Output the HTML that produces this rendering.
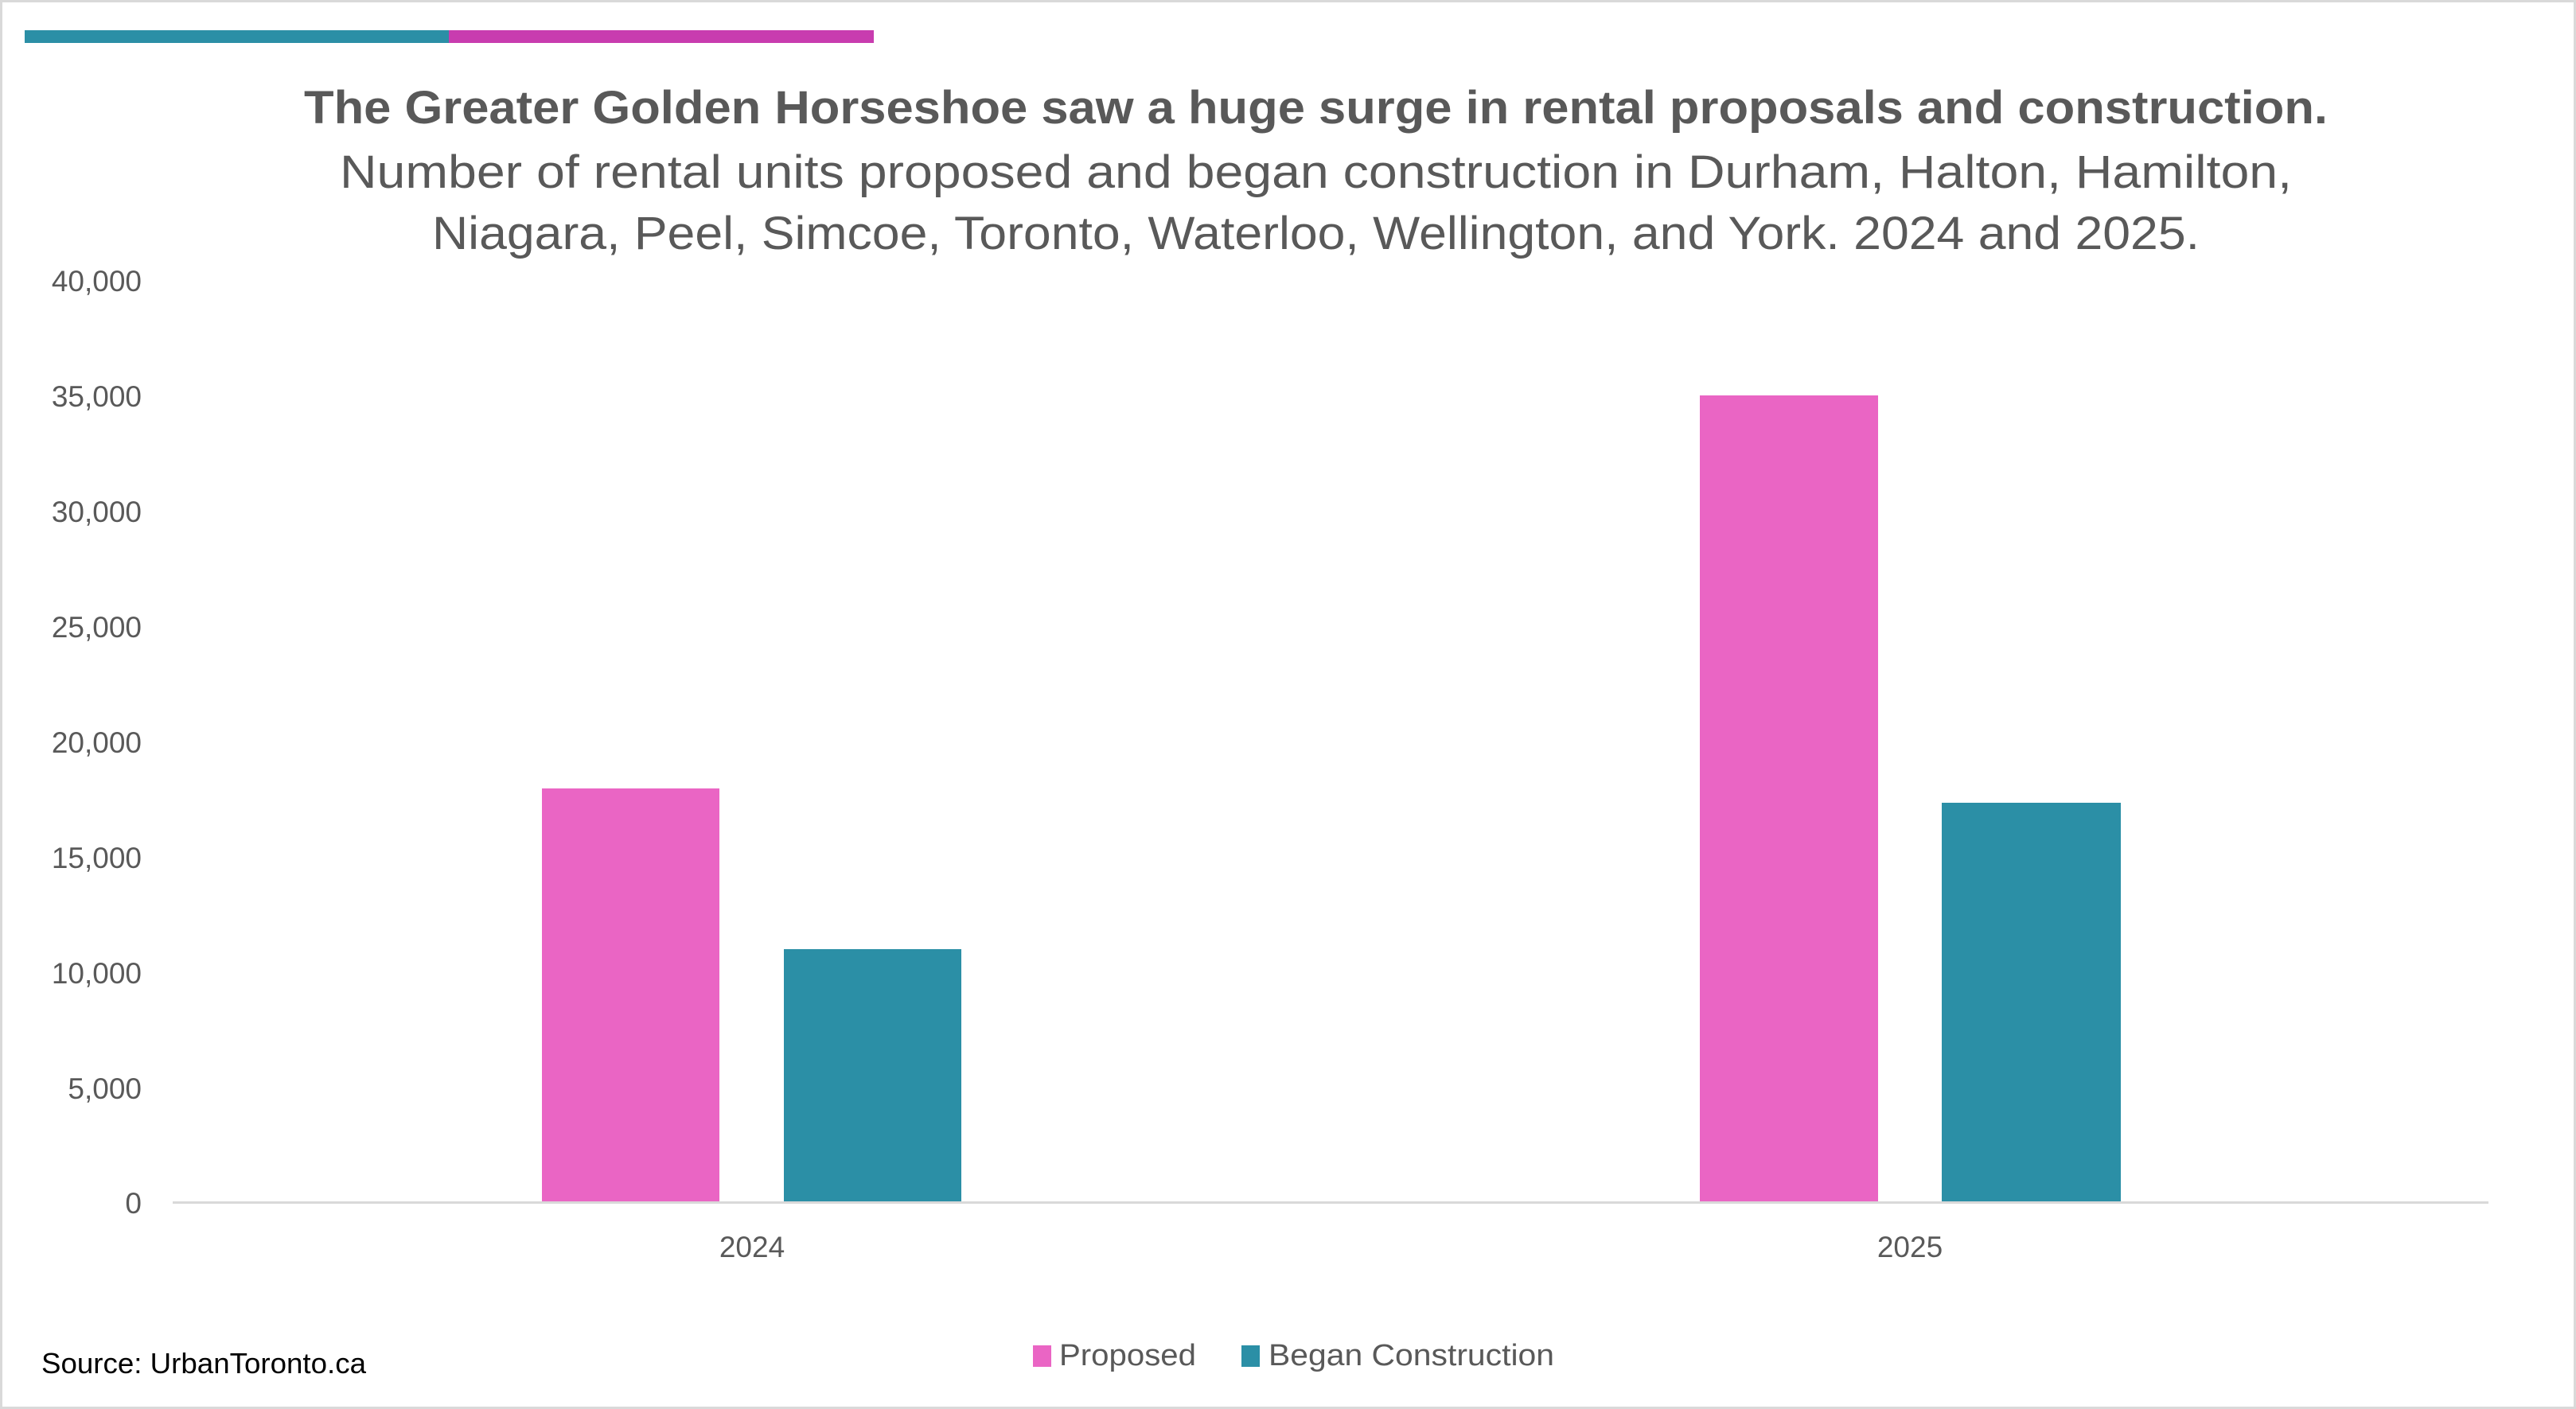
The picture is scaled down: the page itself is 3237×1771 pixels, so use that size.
<!DOCTYPE html>
<html><head><meta charset="utf-8"><style>
html,body{margin:0;padding:0;background:#fff;}
svg{display:block;}
text{font-family:"Liberation Sans",sans-serif;}
</style></head><body>
<svg width="3237" height="1771" viewBox="0 0 3237 1771" xmlns="http://www.w3.org/2000/svg">
<rect x="1.5" y="1.5" width="3234" height="1768" fill="#fff" stroke="#d9d9d9" stroke-width="3"/>
<rect x="31" y="38" width="533" height="16" fill="#2b8fa6"/>
<rect x="564" y="38" width="534" height="16" fill="#c83caf"/>
<text x="382" y="155" font-size="58" font-weight="bold" fill="#595959" textLength="2543" lengthAdjust="spacingAndGlyphs">The Greater Golden Horseshoe saw a huge surge in rental proposals and construction.</text>
<text x="427" y="236" font-size="58" fill="#595959" textLength="2453" lengthAdjust="spacingAndGlyphs">Number of rental units proposed and began construction in Durham, Halton, Hamilton,</text>
<text x="543" y="313" font-size="58" fill="#595959" textLength="2221" lengthAdjust="spacingAndGlyphs">Niagara, Peel, Simcoe, Toronto, Waterloo, Wellington, and York. 2024 and 2025.</text>
<g font-size="37" fill="#595959" text-anchor="end">
<text x="178" y="366">40,000</text>
<text x="178" y="511">35,000</text>
<text x="178" y="656">30,000</text>
<text x="178" y="801">25,000</text>
<text x="178" y="946">20,000</text>
<text x="178" y="1091">15,000</text>
<text x="178" y="1236">10,000</text>
<text x="178" y="1381">5,000</text>
<text x="178" y="1525">0</text>
</g>
<rect x="681" y="991" width="223" height="521" fill="#ea65c4"/>
<rect x="985" y="1193" width="223" height="319" fill="#2b8fa6"/>
<rect x="2136" y="497" width="224" height="1015" fill="#ea65c4"/>
<rect x="2440" y="1009" width="225" height="503" fill="#2b8fa6"/>
<rect x="217" y="1510" width="2910" height="3" fill="#d9d9d9"/>
<g font-size="37" fill="#595959" text-anchor="middle">
<text x="945" y="1580">2024</text>
<text x="2400" y="1580">2025</text>
</g>
<rect x="1298" y="1691" width="23" height="27" fill="#ea65c4"/>
<text x="1331" y="1716" font-size="38" fill="#595959" textLength="172" lengthAdjust="spacingAndGlyphs">Proposed</text>
<rect x="1560" y="1691" width="23" height="27" fill="#2b8fa6"/>
<text x="1594" y="1716" font-size="38" fill="#595959" textLength="359" lengthAdjust="spacingAndGlyphs">Began Construction</text>
<text x="52" y="1726" font-size="36" fill="#000" textLength="408" lengthAdjust="spacingAndGlyphs">Source: UrbanToronto.ca</text>
</svg>
</body></html>
